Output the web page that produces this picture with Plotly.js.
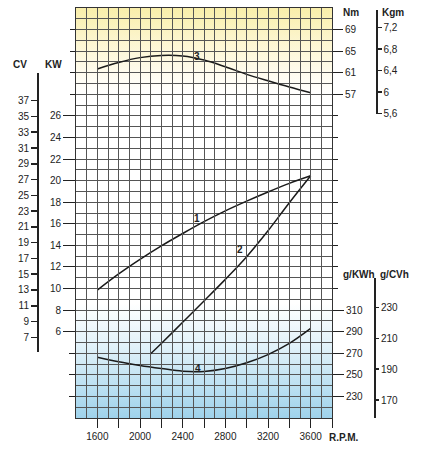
<!DOCTYPE html>
<html>
<head>
<meta charset="utf-8">
<script src="https://cdn.plot.ly/plotly-3.0.1.min.js"></script>
<style>
html,body{margin:0;padding:0;background:#fff;}
#chart{width:422px;height:450px;}
</style>
</head>
<body>
<div id="chart"></div>
<script>
// ---- data ----
var rpm = [1600, 1800, 2000, 2200, 2400, 2600, 2800, 3000, 3200, 3400, 3600];
var powerKW = [9.85, 11.35, 12.7, 13.95, 15.1, 16.2, 17.2, 18.1, 18.95, 19.75, 20.45];      // curve 1
var rpmCurve2 = [2100, 2200, 2400, 2600, 2800, 3000, 3200, 3400, 3600];
var powerKW2 = [3.95, 4.9, 6.87, 8.85, 10.85, 12.95, 15.35, 17.95, 20.45];                 // curve 2
var torqueNm = [61.7, 62.9, 63.8, 64.2, 64.1, 63.35, 62.1, 60.7, 59.5, 58.35, 57.3];       // curve 3
var sfcGKWh = [266.4, 262.1, 258.7, 255.9, 253.4, 253.2, 255.9, 261.2, 268.8, 279.1, 293.0]; // curve 4

var xTickVals = [1600, 1800, 2000, 2200, 2400, 2600, 2800, 3000, 3200, 3400, 3600, 3800];
var xTickText = ['1600', '', '2000', '', '2400', '', '2800', '', '3200', '', '3600', ''];
var kwTicks = [6, 8, 10, 12, 14, 16, 18, 20, 22, 24, 26];
var nmTicks = [57, 61, 65, 69];
var gkwhTicks = [230, 250, 270, 290, 310];
var cvTicks = [7, 9, 11, 13, 15, 17, 19, 21, 23, 25, 27, 29, 31, 33, 35, 37];
var kgmTicks = [5.6, 6, 6.4, 6.8, 7.2];
var kgmText = ['5,6', '6', '6,4', '6,8', '7,2'];
var gcvhTicks = [170, 190, 210, 230];

// ---- layout helpers ----
var W = 422, H = 450;
function px(x) { return x / W; }
function py(y) { return 1 - y / H; }
var FONT = 'Liberation Sans, Arial, Helvetica, sans-serif';
var INK = '#222';
var GRID = '#555';
var tickFont = {family: FONT, size: 10, color: INK};
var boldFont = {family: FONT, size: 10, color: INK};

var X_RANGE = [1400, 3800];
var KW_RANGE = [-2, 36];
var NM_RANGE = [-3, 73];
var G_RANGE = [210, 590];

function overlayAxis(range, side, vals, len, labels, text) {
  var a = {
    overlaying: 'y', side: side, range: range, showgrid: false, zeroline: false,
    tickmode: 'array', tickvals: vals, ticks: 'outside', ticklen: len,
    tickwidth: 1, tickcolor: INK, showticklabels: !!labels, tickfont: tickFont,
    fixedrange: true
  };
  if (text) a.ticktext = text;
  return a;
}
function freeAxis(range, side, pos, domain, vals, len, text) {
  var a = {
    anchor: 'free', position: pos, side: side, domain: domain, range: range,
    showgrid: false, zeroline: false, showline: true, linecolor: INK, linewidth: 1.5,
    tickmode: 'array', tickvals: vals, ticks: 'outside', ticklen: len,
    tickwidth: 1.5, tickcolor: INK, tickfont: tickFont, fixedrange: true
  };
  if (text) a.ticktext = text;
  return a;
}
function label(text, xref, yref, x, y) {
  return {text: '<b>' + text + '</b>', xref: xref, yref: yref, x: x, y: y,
          xanchor: 'center', yanchor: 'middle', showarrow: false, font: boldFont};
}

var curveLine = {color: '#1a1a1a', width: 1.5, shape: 'spline', smoothing: 1};

var traces = [
  {x: rpm, y: powerKW, xaxis: 'x', yaxis: 'y', mode: 'lines', line: curveLine, hoverinfo: 'skip'},
  {x: rpmCurve2, y: powerKW2, xaxis: 'x', yaxis: 'y', mode: 'lines', line: curveLine, hoverinfo: 'skip'},
  {x: rpm, y: torqueNm, xaxis: 'x', yaxis: 'y4', mode: 'lines', line: curveLine, hoverinfo: 'skip'},
  {x: rpm, y: sfcGKWh, xaxis: 'x', yaxis: 'y6', mode: 'lines', line: curveLine, hoverinfo: 'skip'}
];
// empty traces so every helper axis is attached to a subplot
['y2','y3','y5','y7','y8','y9','y10'].forEach(function (ya) {
  traces.push({x: [null], y: [null], xaxis: 'x', yaxis: ya, mode: 'lines', hoverinfo: 'skip'});
});
traces.push({x: [null], y: [null], xaxis: 'x2', yaxis: 'y', mode: 'lines', hoverinfo: 'skip'});

var bgSvg = '<svg xmlns="http://www.w3.org/2000/svg" width="256" height="410" viewBox="0 0 256 410" preserveAspectRatio="none">' +
  '<defs><linearGradient id="g" x1="0" y1="0" x2="0" y2="1">' +
  '<stop offset="0" stop-color="#f9eeaa"/>' +
  '<stop offset="0.08" stop-color="#fcf5cf"/>' +
  '<stop offset="0.16" stop-color="#fffcef"/>' +
  '<stop offset="0.21" stop-color="#ffffff"/>' +
  '<stop offset="0.72" stop-color="#ffffff"/>' +
  '<stop offset="0.82" stop-color="#e3f2f9"/>' +
  '<stop offset="1" stop-color="#9fd3ec"/>' +
  '</linearGradient></defs><rect width="256" height="410" fill="url(#g)"/></svg>';
var bgSrc = 'data:image/svg+xml;charset=utf-8,' + encodeURIComponent(bgSvg);

var layout = {
  width: W, height: H,
  margin: {l: 0, r: 0, t: 0, b: 0, pad: 0},
  paper_bgcolor: '#ffffff', plot_bgcolor: 'rgba(0,0,0,0)',
  showlegend: false,
  font: tickFont,
  xaxis: {
    domain: [px(76), px(332)], anchor: 'y', range: X_RANGE,
    tickmode: 'linear', tick0: 1400, dtick: 100, showticklabels: false, ticks: '',
    showgrid: true, gridcolor: GRID, gridwidth: 1, zeroline: false,
    showline: true, mirror: true, linecolor: '#333', linewidth: 1, fixedrange: true
  },
  xaxis2: {
    overlaying: 'x', anchor: 'y', side: 'bottom', range: X_RANGE,
    tickmode: 'array', tickvals: xTickVals, ticktext: xTickText,
    ticks: 'outside', ticklen: 9, tickwidth: 1, tickcolor: INK, tickfont: tickFont,
    showgrid: false, zeroline: false, fixedrange: true
  },
  yaxis: {
    domain: [py(418), py(8)], anchor: 'x', range: KW_RANGE,
    tickmode: 'linear', tick0: 0, dtick: 1, showticklabels: false, ticks: '',
    showgrid: true, gridcolor: GRID, gridwidth: 1, zeroline: false,
    showline: true, mirror: true, linecolor: '#333', linewidth: 1, fixedrange: true
  },
  yaxis2: overlayAxis(KW_RANGE, 'left', kwTicks, 12, true),
  yaxis3: overlayAxis(KW_RANGE, 'right', kwTicks, 5, false),
  yaxis4: overlayAxis(NM_RANGE, 'right', nmTicks, 10, true),
  yaxis5: overlayAxis(NM_RANGE, 'left', nmTicks, 5, false),
  yaxis6: overlayAxis(G_RANGE, 'right', gkwhTicks, 11, true),
  yaxis7: overlayAxis(G_RANGE, 'left', gkwhTicks, 6, false),
  yaxis8: freeAxis([5.136, 40.51], 'left', px(37), [py(352), py(73)], cvTicks, 6),
  yaxis9: freeAxis([5.594, 7.529], 'right', px(376), [py(114), py(10)], kgmTicks, 4, kgmText),
  yaxis10: freeAxis([158.3, 249.3], 'right', px(374), [py(418), py(278)], gcvhTicks, 3.5),
  images: [{
    source: bgSrc, xref: 'x', yref: 'y', x: X_RANGE[0], y: KW_RANGE[1],
    sizex: X_RANGE[1] - X_RANGE[0], sizey: KW_RANGE[1] - KW_RANGE[0],
    sizing: 'stretch', xanchor: 'left', yanchor: 'top', layer: 'below'
  }],
  annotations: [
    label('1', 'x', 'y', 2531, 16.5),
    label('2', 'x', 'y', 2935, 13.6),
    label('3', 'x', 'y4', 2534, 64.1),
    label('4', 'x', 'y6', 2540, 256.2),
    label('CV', 'paper', 'paper', px(19.5), py(65)),
    label('KW', 'paper', 'paper', px(53.5), py(65)),
    label('Nm', 'paper', 'paper', px(351), py(13)),
    label('Kgm', 'paper', 'paper', px(393), py(13)),
    label('g/KWh', 'paper', 'paper', px(358.5), py(274)),
    label('g/CVh', 'paper', 'paper', px(394.5), py(274)),
    label('R.P.M.', 'paper', 'paper', px(343), py(437.5))
  ]
};

Plotly.newPlot('chart', traces, layout, {staticPlot: true, displayModeBar: false});
</script>
</body>
</html>
